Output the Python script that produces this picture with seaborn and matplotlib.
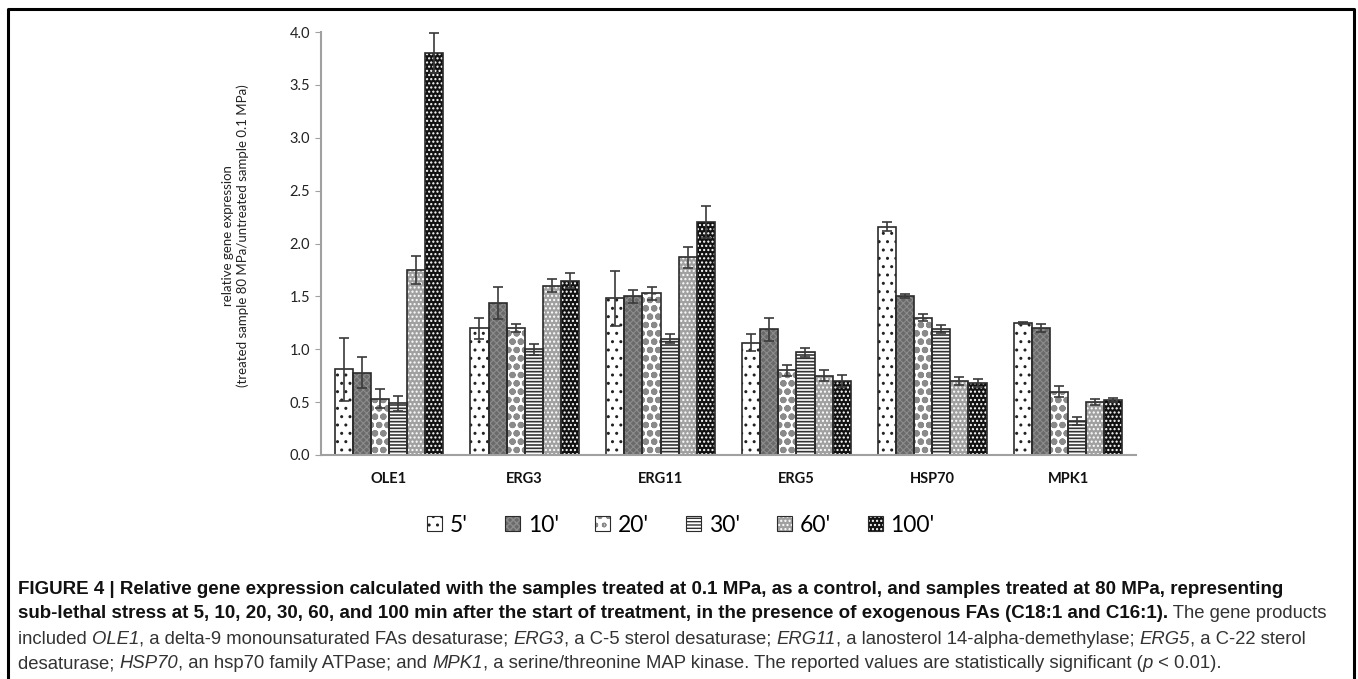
import numpy as np
import pandas as pd
import matplotlib
matplotlib.use("Agg")
import matplotlib.pyplot as plt
from matplotlib.patches import Patch, Rectangle
from matplotlib.lines import Line2D
from matplotlib.legend_handler import HandlerTuple
import seaborn as sns

genes = ["OLE1", "ERG3", "ERG11", "ERG5", "HSP70", "MPK1"]
times = ["5'", "10'", "20'", "30'", "60'", "100'"]

# relative expression per time point (gene order as above)
t5 = [0.81, 1.20, 1.48, 1.06, 2.16, 1.25]
t10 = [0.78, 1.44, 1.50, 1.19, 1.50, 1.20]
t20 = [0.53, 1.20, 1.53, 0.80, 1.30, 0.60]
t30 = [0.49, 1.00, 1.10, 0.97, 1.19, 0.32]
t60 = [1.75, 1.60, 1.87, 0.75, 0.70, 0.50]
t100 = [3.80, 1.65, 2.20, 0.70, 0.68, 0.52]

# error bar half-lengths
e5 = [0.30, 0.10, 0.26, 0.08, 0.04, 0.01]
e10 = [0.15, 0.15, 0.06, 0.11, 0.02, 0.04]
e20 = [0.09, 0.04, 0.06, 0.05, 0.03, 0.05]
e30 = [0.07, 0.05, 0.04, 0.04, 0.04, 0.04]
e60 = [0.13, 0.06, 0.10, 0.05, 0.04, 0.03]
e100 = [0.19, 0.07, 0.15, 0.06, 0.04, 0.02]

vals = [t5, t10, t20, t30, t60, t100]
errs = [e5, e10, e20, e30, e60, e100]

rows = []
for t, v, e in zip(times, vals, errs):
    for g, vi, ei in zip(genes, v, e):
        rows.append({"gene": g, "time": t, "value": vi, "err": ei})
df = pd.DataFrame(rows)

# face colour, hatch, hatch colour, hatch width per time point
faces = ["white", "#6a6a6a", "white", "white", "#a0a0a0", "#111111"]
hatches = ["..", "xxxxx", "oo", "-----", "....", "...."]
hcolors = ["#222222", "#8c8c8c", "#8a8a8a", "#333333", "white", "white"]
hwidths = [1.0, 0.8, 2.2, 1.2, 1.0, 1.0]

W, H = 1358, 679
plt.rcParams["hatch.linewidth"] = 1.0
plt.rcParams["font.family"] = ["Lato", "DejaVu Sans"]

fig = plt.figure(figsize=(W / 100, H / 100), dpi=100)
ax = fig.add_axes([321 / W, 1 - 455 / H, (1136 - 321) / W, (455 - 32) / H])

sns.barplot(data=df, x="gene", y="value", hue="time", hue_order=times,
            order=genes, palette=faces, saturation=1, errorbar=None,
            width=0.8, gap=0, legend=False, ax=ax)


def style_patch(p, i):
    p.set_hatch(hatches[i])
    p.set_edgecolor(hcolors[i])
    p.set_linewidth(0)
    if hasattr(p, "set_hatch_linewidth"):
        p.set_hatch_linewidth(hwidths[i])


bar_conts = list(ax.containers)
for i, cont in enumerate(bar_conts):
    xs, ys = [], []
    for bar in cont:
        style_patch(bar, i)
        ax.add_patch(Rectangle((bar.get_x(), 0), bar.get_width(), bar.get_height(),
                               fill=False, edgecolor="#2b2b2b", linewidth=1.2,
                               zorder=bar.get_zorder() + 0.1))
        xs.append(bar.get_x() + bar.get_width() / 2)
        ys.append(bar.get_height())
    ax.errorbar(xs, ys, yerr=errs[i], fmt="none", ecolor="#3a3a3a",
                elinewidth=1.2, capsize=3.5, capthick=1.2, zorder=5)

ax.set_ylim(0, 4.0)
ax.set_xlim(-0.5, 5.5)
yt = np.arange(0, 4.01, 0.5)
ax.set_yticks(yt)
ax.set_yticklabels([f"{v:.1f}" for v in yt], fontsize=10.5, color="#222222")
ax.set_xticks(range(len(genes)))
ax.set_xticklabels(genes, fontsize=10.5, fontweight="bold", color="#111111")
ax.tick_params(axis="y", direction="out", length=4, color="#a0a0a0", pad=4)
ax.tick_params(axis="x", length=0, pad=12)
ax.set_xlabel("")
ax.set_ylabel("")
for s in ["top", "right"]:
    ax.spines[s].set_visible(False)
for s in ["left", "bottom"]:
    ax.spines[s].set_color("#a0a0a0")
    ax.spines[s].set_linewidth(1.5)

fig.text(235.5 / W, 1 - 236 / H,
         "relative gene expression\n(treated sample 80 MPa/untreated sample 0.1 MPa)",
         rotation=90, ha="center", va="center", fontsize=9.5, color="#222222",
         linespacing=1.3)

# legend
handles = []
for i in range(len(times)):
    fill = Patch(facecolor=faces[i], edgecolor=hcolors[i], linewidth=0, hatch=hatches[i])
    outline = Patch(facecolor="none", edgecolor="#2b2b2b", linewidth=0.8)
    handles.append((fill, outline))
fig.legend(handles, times, loc="center", bbox_to_anchor=(681 / W, 1 - 525 / H),
           ncol=6, frameon=False, fontsize=16.5, handlelength=0.65, handleheight=0.65,
           handletextpad=0.35, columnspacing=1.6,
           handler_map={tuple: HandlerTuple(ndivide=1, pad=0)})

# border
fig.add_artist(Line2D([8 / W, 8 / W, 1354 / W, 1354 / W], [0, 1 - 9 / H, 1 - 9 / H, 0],
                      transform=fig.transFigure, color="black", linewidth=2.2))

# caption with mixed styles
renderer = fig.canvas.get_renderer()
cap_font = ["Liberation Sans", "DejaVu Sans"]

lines = [
    [("FIGURE 4 | Relative gene expression calculated with the samples treated at 0.1 MPa, "
      "as a control, and samples treated at 80 MPa, representing", "b")],
    [("sub-lethal stress at 5, 10, 20, 30, 60, and 100 min after the start of treatment, "
      "in the presence of exogenous FAs (C18:1 and C16:1).", "b"), (" The gene products", "n")],
    [("included ", "n"), ("OLE1", "i"), (", a delta-9 monounsaturated FAs desaturase; ", "n"),
     ("ERG3", "i"), (", a C-5 sterol desaturase; ", "n"), ("ERG11", "i"),
     (", a lanosterol 14-alpha-demethylase; ", "n"), ("ERG5", "i"), (", a C-22 sterol", "n")],
    [("desaturase; ", "n"), ("HSP70", "i"), (", an hsp70 family ATPase; and ", "n"),
     ("MPK1", "i"), (", a serine/threonine MAP kinase. The reported values are statistically "
                     "significant (", "n"), ("p", "i"), (" < 0.01).", "n")],
]

# fit the first caption line between x=18 and x=1290
probe = fig.text(0, 0, lines[0][0][0], fontsize=10, fontweight="bold", family=cap_font)
cap_size = 10 * (1290 - 18) / probe.get_window_extent(renderer).width
probe.remove()
plain_size = cap_size * 0.985


def run_width(s, **kw):
    t = fig.text(0, 0, "|" + s + "|", **kw)
    w1 = t.get_window_extent(renderer).width
    t.remove()
    t = fig.text(0, 0, "||", **kw)
    w2 = t.get_window_extent(renderer).width
    t.remove()
    return w1 - w2


def draw_line(runs, x0, ybase):
    x = x0
    for s, style in runs:
        if style == "b":
            kw = dict(fontsize=cap_size, family=cap_font, fontweight="bold", color="#111111")
        elif style == "i":
            kw = dict(fontsize=plain_size, family=cap_font, fontstyle="italic", color="#333333")
        else:
            kw = dict(fontsize=plain_size, family=cap_font, color="#333333")
        fig.text(x / W, 1 - ybase / H, s, ha="left", va="baseline", **kw)
        x += run_width(s, **kw)


for k, runs in enumerate(lines):
    draw_line(runs, 18, 593.5 + k * 25)

fig.savefig("out.png", dpi=100, facecolor="white")
